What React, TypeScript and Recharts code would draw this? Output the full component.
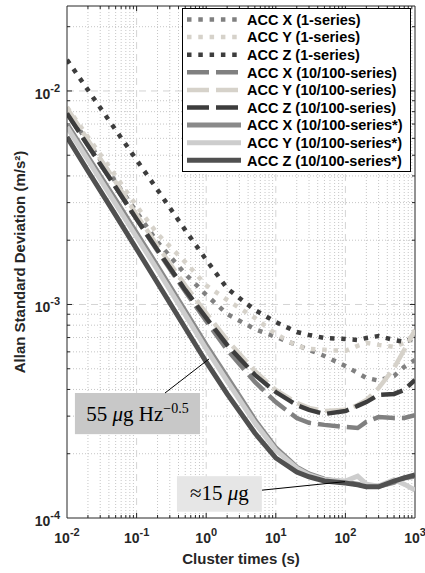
import React from "react";
import { LineChart, Line, XAxis, YAxis, ReferenceLine, ReferenceArea, Legend } from "recharts";

// ── Data (Allan deviation, m/s²) ────────────────────────────────────────────

const taus = [0.01, 0.02, 0.05, 0.1, 0.2, 0.5, 1, 2, 5, 10, 20, 30, 50, 100, 150, 200, 300, 500, 700, 1000];

const accX1 = [7.98e-3, 5.77e-3, 3.75e-3, 2.71e-3, 1.96e-3, 1.39e-3, 1.11e-3, 9.02e-4, 7.67e-4, 7.05e-4, 6.46e-4, 6.13e-4, 5.74e-4, 5.15e-4, 4.78e-4, 4.53e-4, 4.4e-4, 4.63e-4, 5.1e-4, 5.5e-4];
const accY1 = [8.41e-3, 6.09e-3, 4.0e-3, 2.89e-3, 2.14e-3, 1.58e-3, 1.23e-3, 1.05e-3, 8.65e-4, 7.28e-4, 6.4e-4, 6.19e-4, 6.13e-4, 6.06e-4, 6.4e-4, 6.61e-4, 6.47e-4, 6.33e-4, 6.61e-4, 7.28e-4];
const accZ1 = [1.4e-2, 1.01e-2, 6.57e-3, 4.75e-3, 3.44e-3, 2.23e-3, 1.62e-3, 1.19e-3, 9.42e-4, 8.28e-4, 7.43e-4, 7.2e-4, 6.97e-4, 6.9e-4, 6.82e-4, 6.97e-4, 7.12e-4, 6.82e-4, 6.68e-4, 6.97e-4];

const accX10 = [7.89e-3, 5.58e-3, 3.55e-3, 2.51e-3, 1.78e-3, 1.15e-3, 8.37e-4, 6.13e-4, 4.34e-4, 3.49e-4, 2.94e-4, 2.79e-4, 2.73e-4, 2.67e-4, 2.64e-4, 2.82e-4, 2.97e-4, 2.94e-4, 2.94e-4, 3.03e-4];
const accY10 = [8.32e-3, 5.89e-3, 3.75e-3, 2.63e-3, 1.88e-3, 1.23e-3, 9.12e-4, 6.82e-4, 4.89e-4, 3.98e-4, 3.46e-4, 3.28e-4, 3.17e-4, 3.21e-4, 3.38e-4, 3.57e-4, 4.06e-4, 5.04e-4, 6.13e-4, 7.6e-4];
const accZ10 = [7.85e-3, 5.55e-3, 3.55e-3, 2.51e-3, 1.8e-3, 1.17e-3, 8.65e-4, 6.46e-4, 4.68e-4, 3.89e-4, 3.38e-4, 3.21e-4, 3.07e-4, 3.17e-4, 3.35e-4, 3.49e-4, 3.77e-4, 3.81e-4, 3.98e-4, 4.43e-4];

const accXs = [7.0e-3, 4.91e-3, 3.09e-3, 2.16e-3, 1.51e-3, 9.32e-4, 6.46e-4, 4.57e-4, 2.88e-4, 2.13e-4, 1.73e-4, 1.61e-4, 1.52e-4, 1.47e-4, 1.44e-4, 1.41e-4, 1.41e-4, 1.47e-4, 1.54e-4, 1.57e-4];
const accYs = [6.78e-3, 4.75e-3, 2.96e-3, 2.07e-3, 1.45e-3, 8.94e-4, 6.19e-4, 4.38e-4, 2.79e-4, 2.08e-4, 1.71e-4, 1.59e-4, 1.51e-4, 1.49e-4, 1.57e-4, 1.44e-4, 1.41e-4, 1.51e-4, 1.44e-4, 1.35e-4];
const accZs = [6.09e-3, 4.22e-3, 2.62e-3, 1.82e-3, 1.26e-3, 7.76e-4, 5.38e-4, 3.81e-4, 2.5e-4, 1.91e-4, 1.64e-4, 1.56e-4, 1.49e-4, 1.46e-4, 1.43e-4, 1.4e-4, 1.4e-4, 1.49e-4, 1.54e-4, 1.59e-4];

const xTicks = [0.01, 0.1, 1, 10, 100, 1000];
const yTicks = [1e-4, 1e-3, 1e-2];
const xDomain = [0.01, 1000];
const yDomain = [1e-4, 0.025];

// grid: decades are major, 2..9 multiples are minor
const xMajor = [0.1, 1, 10, 100];
const yMajor = [1e-3, 1e-2];
const mult = [2, 3, 4, 5, 6, 7, 8, 9];
const xMinor = [0.01, 0.1, 1, 10, 100].flatMap((d) => mult.map((m) => m * d));
const yMinor = [1e-4, 1e-3, 1e-2].flatMap((d) => mult.map((m) => m * d)).filter((v) => v < 0.025);

const data = taus.map((tau, i) => ({
  tau,
  x1: accX1[i], y1: accY1[i], z1: accZ1[i],
  x10: accX10[i], y10: accY10[i], z10: accZ10[i],
  xs: accXs[i], ys: accYs[i], zs: accZs[i],
}));

const DOT = "4.5 6.8";
const DASH = "22 7";

const SERIES = [
  { key: "x1", name: "ACC X (1-series)", color: "#808080", dash: DOT },
  { key: "y1", name: "ACC Y (1-series)", color: "#d6d2ca", dash: DOT },
  { key: "z1", name: "ACC Z (1-series)", color: "#3d3d3d", dash: DOT },
  { key: "x10", name: "ACC X (10/100-series)", color: "#808080", dash: DASH },
  { key: "y10", name: "ACC Y (10/100-series)", color: "#d6d2ca", dash: DASH },
  { key: "z10", name: "ACC Z (10/100-series)", color: "#3d3d3d", dash: DASH },
  { key: "xs", name: "ACC X (10/100-series*)", color: "#8a8a8a", dash: undefined },
  { key: "ys", name: "ACC Y (10/100-series*)", color: "#cdcdcd", dash: undefined },
  { key: "zs", name: "ACC Z (10/100-series*)", color: "#505050", dash: undefined },
];

const AXIS = "#262626";
const SANS = "'Liberation Sans', Arial, Helvetica, sans-serif";
const SERIF = "'Liberation Serif', 'Times New Roman', serif";

const expOf = (v: number) => String(Math.round(Math.log10(v)));

// ── Axis pieces ─────────────────────────────────────────────────────────────

function XTick({ x, y, payload }: any) {
  return (
    <text x={x} y={y + 25} textAnchor="middle" fontFamily={SANS} fontWeight="bold" fontSize={14} fill={AXIS}>
      10<tspan dy={-7} fontSize={11}>{expOf(payload.value)}</tspan>
    </text>
  );
}

function YTick({ x, y, payload }: any) {
  return (
    <text x={x} y={y + 8} textAnchor="end" fontFamily={SANS} fontWeight="bold" fontSize={14} fill={AXIS}>
      10<tspan dy={-7} fontSize={11}>{expOf(payload.value)}</tspan>
    </text>
  );
}

function YLabel({ viewBox }: any) {
  const cx = 25;
  const cy = viewBox.y + viewBox.height / 2;
  return (
    <text x={cx} y={cy} transform={`rotate(-90, ${cx}, ${cy})`} textAnchor="middle" fontFamily={SANS} fontWeight="bold" fontSize={15} fill={AXIS}>
      Allan Standard Deviation (m/s²)
    </text>
  );
}

// grid line + inward ticks on both sides of the box
function gridShape(major: boolean, vertical: boolean) {
  return (p: any) => {
    const len = major ? 5 : 3;
    const stroke = major ? "#d4d4d4" : "#c6c6c6";
    const dash = major ? "7 5" : "1 2";
    if (vertical) {
      const top = Math.min(p.y1, p.y2);
      const bot = Math.max(p.y1, p.y2);
      return (
        <g>
          <line x1={p.x1} x2={p.x1} y1={top} y2={bot} stroke={stroke} strokeDasharray={dash} />
          <line x1={p.x1} x2={p.x1} y1={bot} y2={bot - len} stroke={AXIS} />
          <line x1={p.x1} x2={p.x1} y1={top} y2={top + len} stroke={AXIS} />
        </g>
      );
    }
    const left = Math.min(p.x1, p.x2);
    const right = Math.max(p.x1, p.x2);
    return (
      <g>
        <line x1={left} x2={right} y1={p.y1} y2={p.y1} stroke={stroke} strokeDasharray={dash} />
        <line x1={left} x2={left + len} y1={p.y1} y2={p.y1} stroke={AXIS} />
        <line x1={right} x2={right - len} y1={p.y1} y2={p.y1} stroke={AXIS} />
      </g>
    );
  };
}

// ── Legend ──────────────────────────────────────────────────────────────────

function LegendBox() {
  return (
    <div style={{ width: 229, height: 164, border: "1px solid #000", background: "#fff", boxSizing: "border-box" }}>
      <svg width={227} height={162} style={{ display: "block" }}>
        {SERIES.map((s, i) => {
          const y = 10.5 + i * 17.6;
          return (
            <g key={s.key}>
              <line x1={4} x2={58} y1={y} y2={y} stroke={s.color} strokeWidth={s.dash ? 4.5 : 5} strokeDasharray={s.dash} />
              <text x={64} y={y + 5.2} fontFamily={SANS} fontWeight="bold" fontSize={14.5} fill="#000">
                {s.name}
              </text>
            </g>
          );
        })}
      </svg>
    </div>
  );
}

// ── Annotations ─────────────────────────────────────────────────────────────

const noiseBox = { x1: 0.013, x2: 0.815, y1: 2.47e-4, y2: 3.85e-4 };
const noiseLink = [{ x: 0.256, y: 3.85e-4 }, { x: 1.1, y: 5.56e-4 }];
const biasBox = { x1: 0.38, x2: 6.3, y1: 1.07e-4, y2: 1.57e-4 };
const biasLink = [{ x: 6.34, y: 1.35e-4 }, { x: 98.6, y: 1.48e-4 }];

function NoiseShape(p: any) {
  return (
    <g>
      <rect x={p.x} y={p.y} width={p.width} height={p.height} fill="#c8c8c8" />
      <text x={p.x + p.width / 2} y={p.y + 28} textAnchor="middle" fontFamily={SERIF} fontSize={21} fill="#000">
        55 <tspan fontStyle="italic">μ</tspan>g Hz<tspan dy={-8} fontSize={14}>−0.5</tspan>
      </text>
    </g>
  );
}

function BiasShape(p: any) {
  return (
    <g>
      <rect x={p.x} y={p.y} width={p.width} height={p.height} fill="#e6e6e6" />
      <text x={p.x + p.width / 2} y={p.y + 24} textAnchor="middle" fontFamily={SERIF} fontSize={21} fill="#000">
        ≈15 <tspan fontStyle="italic">μ</tspan>g
      </text>
    </g>
  );
}

// ── Main ────────────────────────────────────────────────────────────────────

export default function App() {
  return (
    <div style={{ position: "absolute", left: 0, top: 0, width: 425, height: 573, background: "#fff" }}>
      <LineChart width={425} height={573} data={data} margin={{ top: 6, right: 10, bottom: 0, left: 0 }}>
        <XAxis
          dataKey="tau"
          type="number"
          scale="log"
          domain={xDomain}
          allowDataOverflow
          ticks={xTicks}
          interval={0}
          height={55}
          tickSize={0}
          tickMargin={0}
          tickLine={false}
          axisLine={{ stroke: AXIS }}
          tick={<XTick />}
          label={{ value: "Cluster times (s)", position: "insideBottom", offset: 9, fontFamily: SANS, fontWeight: "bold", fontSize: 15, fill: AXIS }}
        />
        <YAxis
          type="number"
          scale="log"
          domain={yDomain}
          allowDataOverflow
          ticks={yTicks}
          interval={0}
          width={67}
          tickSize={0}
          tickMargin={7}
          tickLine={false}
          axisLine={{ stroke: AXIS }}
          tick={<YTick />}
          label={<YLabel />}
        />

        {xMinor.map((v) => (
          <ReferenceLine key={`xm${v}`} x={v} zIndex={-50} shape={gridShape(false, true)} />
        ))}
        {yMinor.map((v) => (
          <ReferenceLine key={`ym${v}`} y={v} zIndex={-50} shape={gridShape(false, false)} />
        ))}
        {xMajor.map((v) => (
          <ReferenceLine key={`xM${v}`} x={v} zIndex={-40} shape={gridShape(true, true)} />
        ))}
        {yMajor.map((v) => (
          <ReferenceLine key={`yM${v}`} y={v} zIndex={-40} shape={gridShape(true, false)} />
        ))}
        <ReferenceLine x={xDomain[1]} stroke={AXIS} zIndex={-30} />
        <ReferenceLine y={yDomain[1]} stroke={AXIS} zIndex={-30} />

        {SERIES.map((s) => (
          <Line
            key={s.key}
            dataKey={s.key}
            name={s.name}
            type="linear"
            stroke={s.color}
            strokeWidth={s.dash ? 4.5 : 5}
            strokeDasharray={s.dash}
            strokeLinecap="butt"
            dot={false}
            activeDot={false}
            isAnimationActive={false}
          />
        ))}

        <ReferenceArea {...noiseBox} zIndex={450} shape={NoiseShape} />
        <ReferenceArea {...biasBox} zIndex={450} shape={BiasShape} />
        <ReferenceLine segment={noiseLink} stroke="#000" strokeWidth={1} zIndex={460} />
        <ReferenceLine segment={biasLink} stroke="#000" strokeWidth={1} zIndex={460} />

        <Legend
          layout="vertical"
          align="center"
          verticalAlign="middle"
          wrapperStyle={{ left: 182, top: 8, width: 229, height: 164 }}
          content={() => <LegendBox />}
        />
      </LineChart>
    </div>
  );
}
